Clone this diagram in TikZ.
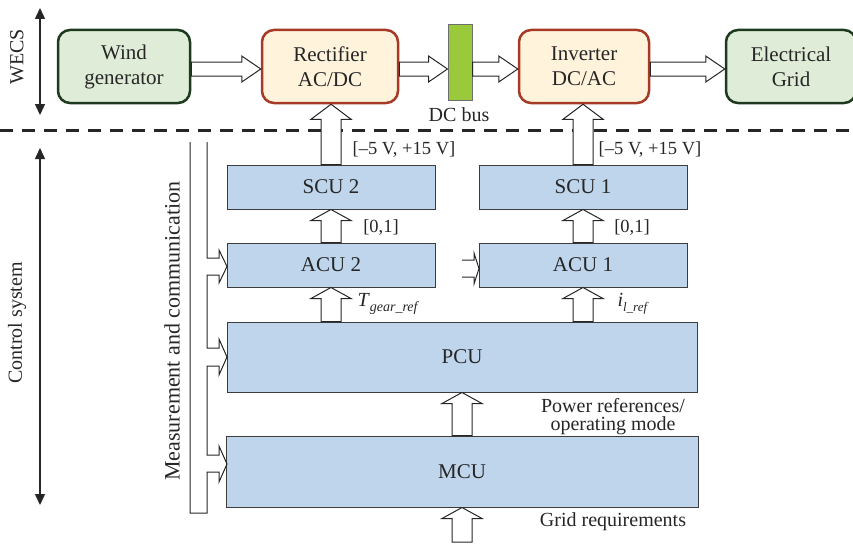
\documentclass[tikz,border=0pt]{standalone}
\usepackage{fontspec}
\setmainfont{Liberation Serif}
\usetikzlibrary{arrows.meta,calc}
\definecolor{greenfill}{RGB}{223,236,215}
\definecolor{greenline}{RGB}{30,58,30}
\definecolor{orangefill}{RGB}{255,243,219}
\definecolor{orangeline}{RGB}{165,58,38}
\definecolor{busfill}{RGB}{154,202,60}
\definecolor{busline}{RGB}{110,110,110}
\definecolor{bluefill}{RGB}{190,213,236}
\definecolor{blueline}{RGB}{60,60,60}
\tikzset{
  boxfont/.style={font=\fontsize{21}{25}\selectfont, text=black!85},
  labelfont/.style={font=\fontsize{20}{18}\selectfont, text=black!85},
  greenbox/.style={boxfont, rounded corners=12pt, draw=greenline, line width=2.5pt, fill=greenfill, align=center, inner sep=0pt},
  orangebox/.style={boxfont, rounded corners=12pt, draw=orangeline, line width=2.5pt, fill=orangefill, align=center, inner sep=0pt},
  unitbox/.style={boxfont, draw=blueline, line width=1pt, fill=bluefill, inner sep=0pt},
  arrowline/.style={draw=black!85, fill=white, line width=1pt},
  fatright/.style={to path={let \p1=(\tikztostart), \p2=(\tikztotarget) in
    (\x1,\y1+7pt) -- (\x2-19pt,\y1+7pt) -- (\x2-19pt,\y1+13pt) -- (\x2,\y1)
    -- (\x2-19pt,\y1-13pt) -- (\x2-19pt,\y1-7pt) -- (\x1,\y1-7pt) -- cycle}},
  fatup/.style={to path={let \p1=(\tikztostart), \p2=(\tikztotarget) in
    (\x1-10pt,\y1) -- (\x1-10pt,\y2-#1) -- (\x1-20pt,\y2-#1) -- (\x1,\y2)
    -- (\x1+20pt,\y2-#1) -- (\x1+10pt,\y2-#1) -- (\x1+10pt,\y1) -- cycle}},
  fatup/.default=11pt,
  sidearrow/.style={draw=black!85, line width=1.5pt, {Triangle[length=11pt,width=10pt]}-{Triangle[length=11pt,width=10pt]}}
}
\begin{document}
\begin{tikzpicture}[x=1pt,y=-1pt]
  \useasboundingbox (0,0) rectangle (853,543);
  \draw[black!85, line width=3pt, dash pattern=on 13pt off 9pt] (0,130) -- (853,130);

  \node[greenbox, minimum width=132, minimum height=73] (wind) at (124,66.5) {Wind\\generator};
  \node[orangebox, minimum width=136, minimum height=73] (rect) at (330,66.5) {Rectifier\\AC/DC};
  \node[draw=busline, line width=1pt, fill=busfill, minimum width=24, minimum height=75, inner sep=0pt] (bus) at (460,62.5) {};
  \node[orangebox, minimum width=130, minimum height=73] (inv) at (584,66.5) {Inverter\\DC/AC};
  \node[greenbox, minimum width=130, minimum height=73] (grid) at (791,66.5) {Electrical\\Grid};
  \node[labelfont] (buslabel) at (459,115) {DC bus};

  \node[unitbox, minimum width=208, minimum height=44] (scu2) at (331,187) {SCU 2};
  \node[unitbox, minimum width=208, minimum height=44] (acu2) at (331,265) {ACU 2};
  \node[unitbox, minimum width=208, minimum height=44] (scu1) at (583,187) {SCU 1};
  \node[unitbox, minimum width=208, minimum height=44] (acu1) at (583,265) {ACU 1};
  \node[unitbox, minimum width=470, minimum height=70] (pcu) at (462,357) {PCU};
  \node[unitbox, minimum width=472, minimum height=71] (mcu) at (462,471.5) {MCU};
  \coordinate (gridin) at (462,542);

  \draw[arrowline] ([yshift=-2.5pt]wind.east) to[fatright] (rect.west);
  \draw[arrowline] ([yshift=-2.5pt]rect.east) to[fatright] (bus.west);
  \draw[arrowline] ([yshift=-2.5pt]inv.west -| bus.east) to[fatright] (inv.west);
  \draw[arrowline] ([yshift=-2.5pt]inv.east) to[fatright] (grid.west);

  \draw[arrowline] (scu2.north) to[fatup=15pt] (rect.south);
  \draw[arrowline] (scu1.north) to[fatup=15pt] (inv.south);
  \draw[arrowline] (acu2.north) to[fatup] (scu2.south);
  \draw[arrowline] (acu1.north) to[fatup] (scu1.south);
  \draw[arrowline] (acu2.south |- pcu.north) to[fatup] (acu2.south);
  \draw[arrowline] (acu1.south |- pcu.north) to[fatup] (acu1.south);
  \draw[arrowline] (mcu.north -| pcu.south) to[fatup] (pcu.south);
  \draw[arrowline] (gridin) to[fatup] (mcu.south);

  \draw[black!85, line width=1pt] (190,142) -- (190,513) -- (207,513) -- (207,472)
    -- (219,472) -- (219,482) -- (227,464) -- (219,446) -- (219,455) -- (207,455)
    -- (207,366) -- (219,366) -- (219,375) -- (227,357) -- (219,339) -- (219,348) -- (207,348)
    -- (207,275) -- (219,275) -- (219,283) -- (227,266.5) -- (219,250) -- (219,258) -- (207,258)
    -- (207,142);
  \draw[black!85, line width=1pt] (462,260) -- (474,260) -- (474,253) -- (479,268.5)
    -- (474,284) -- (474,277) -- (462,277);

  \node[font=\fontsize{18.5}{20}\selectfont, text=black!85] (v2) at (404,150) {[–5 V, +15 V]};
  \node[font=\fontsize{18.5}{20}\selectfont, text=black!85] (v1) at (650,150) {[–5 V, +15 V]};
  \node[font=\fontsize{18.5}{20}\selectfont, text=black!85] (d2) at (381,228) {[0,1]};
  \node[font=\fontsize{18.5}{20}\selectfont, text=black!85] (d1) at (632,228) {[0,1]};
  \node[labelfont, anchor=west] (tref) at (354,304) {\textit{T}\raisebox{-5pt}{\fontsize{14}{14}\selectfont\textit{gear\_ref}}};
  \node[labelfont, anchor=west] (iref) at (614,304) {\textit{i}\raisebox{-5pt}{\fontsize{13}{13}\selectfont\textit{l\_ref}}};
  \node[labelfont, align=center] (powref) at (613,417) {Power references/\\operating mode};
  \node[labelfont] (gridreq) at (613,522) {Grid requirements};

  \node[font=\fontsize{22}{24}\selectfont, text=black!85, rotate=90] (meas) at (172,331) {Measurement and communication};
  \node[labelfont, rotate=90] (wecs) at (17,57) {WECS};
  \node[labelfont, rotate=90] (ctrl) at (17,323) {Control system};
  \coordinate (wecstop) at (40,8);
  \coordinate (wecsbot) at (40,115);
  \coordinate (ctrltop) at (40,148);
  \coordinate (ctrlbot) at (40,505);
  \draw[sidearrow] (wecstop) -- (wecsbot);
  \draw[sidearrow] (ctrltop) -- (ctrlbot);
\end{tikzpicture}
\end{document}
